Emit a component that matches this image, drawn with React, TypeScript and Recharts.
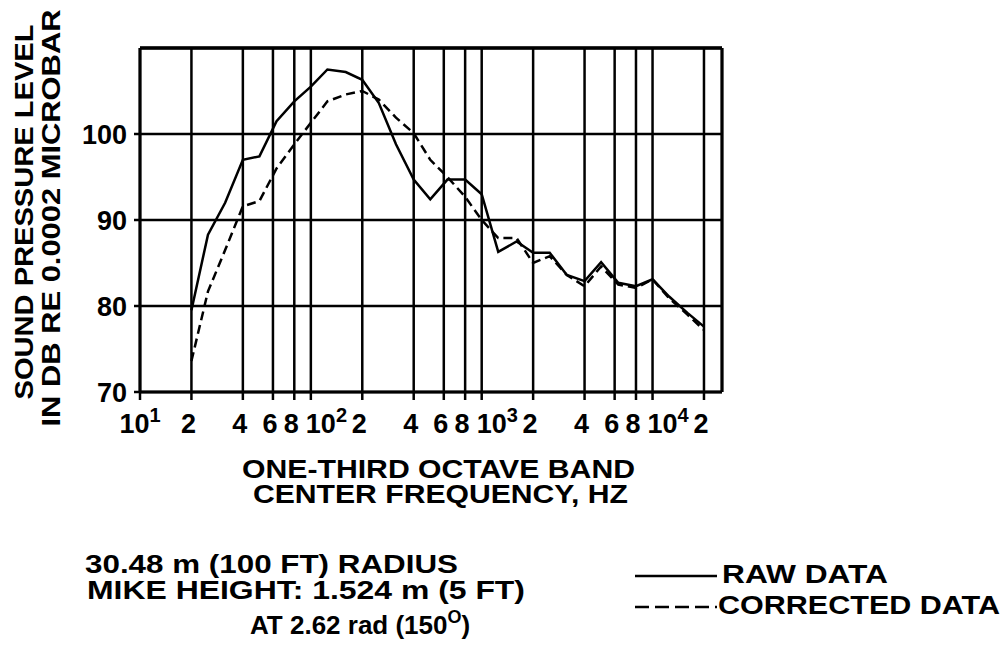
import React from 'react';
import { LineChart, Line, XAxis, YAxis, CartesianGrid, ReferenceLine } from 'recharts';

// one-third octave band centre frequencies, Hz
const FREQ_HZ = [
  20, 25, 31.5, 40, 50, 63, 80, 100, 125, 160, 200, 250, 315, 400, 500, 630,
  800, 1000, 1250, 1600, 2000, 2500, 3150, 4000, 5000, 6300, 8000, 10000, 12500, 16000, 20000,
];

// sound pressure level, dB re 0.0002 microbar
const RAW_DB = [
  79.5, 88.3, 92.0, 97.0, 97.4, 101.5, 103.8, 105.5, 107.5, 107.2, 106.3, 103.6, 98.8, 94.7, 92.4, 94.7,
  94.7, 93.0, 86.3, 87.5, 86.2, 86.2, 83.6, 82.9, 85.1, 82.7, 82.3, 83.1, 81.1, 79.2, 77.6,
];
const CORRECTED_DB = [
  73.6, 81.7, 86.5, 91.6, 92.2, 96.0, 98.8, 101.3, 103.8, 104.6, 105.0, 104.0, 101.9, 100.1, 97.0, 95.0,
  92.7, 90.0, 87.9, 87.9, 85.0, 85.8, 83.6, 82.3, 84.6, 82.5, 82.1, 83.1, 80.9, 79.0, 77.2,
];

const X_TICKS = [10, 20, 40, 60, 80, 100, 200, 400, 600, 800, 1000, 2000, 4000, 6000, 8000, 10000, 20000];
const X_TICK_LABELS = ['10^1', '2', '4', '6', '8', '10^2', '2', '4', '6', '8', '10^3', '2', '4', '6', '8', '10^4', '2'];
const Y_TICKS = [70, 80, 90, 100];

const X_MIN = 10;
const X_MAX = 25500;
const Y_MIN = 70;
const Y_MAX = 110;

const FONT = '"Liberation Sans", Arial, Helvetica, sans-serif';

const data = FREQ_HZ.map((f, i) => ({ f, raw: RAW_DB[i], corrected: CORRECTED_DB[i] }));

const XTick = (props: any) => {
  const { x, y, payload } = props;
  const label = X_TICK_LABELS[X_TICKS.indexOf(payload.value)] ?? '';
  const [base, exp] = label.split('^');
  const baseline = y + 31;
  if (exp) {
    const first = payload.value === X_TICKS[0];
    return (
      <text x={first ? x : x - 5} y={baseline} textAnchor={first ? 'middle' : 'start'}
        fontFamily={FONT} fontWeight="bold" fontSize={27} fill="#000">
        {base}
        <tspan dy={-11} fontSize={20}>{exp}</tspan>
      </text>
    );
  }
  return (
    <text x={x - 3} y={baseline} textAnchor="middle" fontFamily={FONT} fontWeight="bold" fontSize={27} fill="#000">
      {base}
    </text>
  );
};

const YTick = (props: any) => {
  const { x, y, payload } = props;
  return (
    <text x={x - 5} y={y + 9.5} textAnchor="end" fontFamily={FONT} fontWeight="bold" fontSize={27} fill="#000">
      {payload.value}
    </text>
  );
};

const txt = { fontFamily: FONT, fontWeight: 'bold' as const, fill: '#000' };

export default function App() {
  return (
    <div style={{ position: 'absolute', left: 0, top: 0, width: 1007, height: 646, background: '#fff' }}>
      <LineChart width={1007} height={646} data={data} margin={{ top: 48, right: 285, left: 0, bottom: 0 }}>
        <CartesianGrid stroke="#000" strokeWidth={2.5} />
        <XAxis
          dataKey="f"
          type="number"
          scale="log"
          domain={[X_MIN, X_MAX]}
          allowDataOverflow
          ticks={X_TICKS}
          interval={0}
          height={254}
          tickSize={8}
          tick={<XTick />}
          axisLine={{ stroke: '#000', strokeWidth: 3 }}
          tickLine={{ stroke: '#000', strokeWidth: 2.5 }}
        />
        <YAxis
          type="number"
          domain={[Y_MIN, Y_MAX]}
          ticks={Y_TICKS}
          interval={0}
          width={140}
          tickSize={6}
          tick={<YTick />}
          axisLine={{ stroke: '#000', strokeWidth: 3 }}
          tickLine={{ stroke: '#000', strokeWidth: 2.5 }}
        />
        <ReferenceLine y={Y_MAX} stroke="#000" strokeWidth={3.5} />
        <ReferenceLine x={X_MAX} stroke="#000" strokeWidth={3} />
        <Line dataKey="raw" type="linear" stroke="#000" strokeWidth={2.5} dot={false} isAnimationActive={false} />
        <Line dataKey="corrected" type="linear" stroke="#000" strokeWidth={2.5} strokeDasharray="9 5"
          dot={false} isAnimationActive={false} />
      </LineChart>

      <svg width={1007} height={646} style={{ position: 'absolute', left: 0, top: 0, pointerEvents: 'none' }}>
        {/* y axis title */}
        <text {...txt} fontSize={26} textAnchor="middle" transform="translate(33,212) rotate(-90)"
          textLength={375} lengthAdjust="spacingAndGlyphs">SOUND PRESSURE LEVEL</text>
        <text {...txt} fontSize={26} textAnchor="middle" transform="translate(60,218) rotate(-90)"
          textLength={417} lengthAdjust="spacingAndGlyphs">IN DB RE 0.0002 MICROBAR</text>

        {/* x axis title */}
        <text {...txt} fontSize={26} x={242} y={478} textLength={393} lengthAdjust="spacingAndGlyphs">ONE-THIRD OCTAVE BAND</text>
        <text {...txt} fontSize={26} x={253} y={503} textLength={375} lengthAdjust="spacingAndGlyphs">CENTER FREQUENCY, HZ</text>

        {/* notes */}
        <text {...txt} fontSize={26} x={85} y={573} textLength={373} lengthAdjust="spacingAndGlyphs">30.48 m (100 FT) RADIUS</text>
        <text {...txt} fontSize={26} x={87} y={599} textLength={438} lengthAdjust="spacingAndGlyphs">MIKE HEIGHT: 1.524 m (5 FT)</text>
        <text {...txt} fontSize={26} x={250} y={634}>
          AT  2.62 rad (150<tspan dy={-11} fontSize={18}>O</tspan><tspan dy={11}>)</tspan>
        </text>

        {/* legend */}
        <line x1={635} x2={717} y1={576} y2={576} stroke="#000" strokeWidth={2.5} />
        <text {...txt} fontSize={26} x={722} y={583} textLength={166} lengthAdjust="spacingAndGlyphs">RAW DATA</text>
        <line x1={635} x2={717} y1={607} y2={607} stroke="#000" strokeWidth={2.5} strokeDasharray="14 6" />
        <text {...txt} fontSize={26} x={718} y={614} textLength={282} lengthAdjust="spacingAndGlyphs">CORRECTED DATA</text>
      </svg>
    </div>
  );
}
